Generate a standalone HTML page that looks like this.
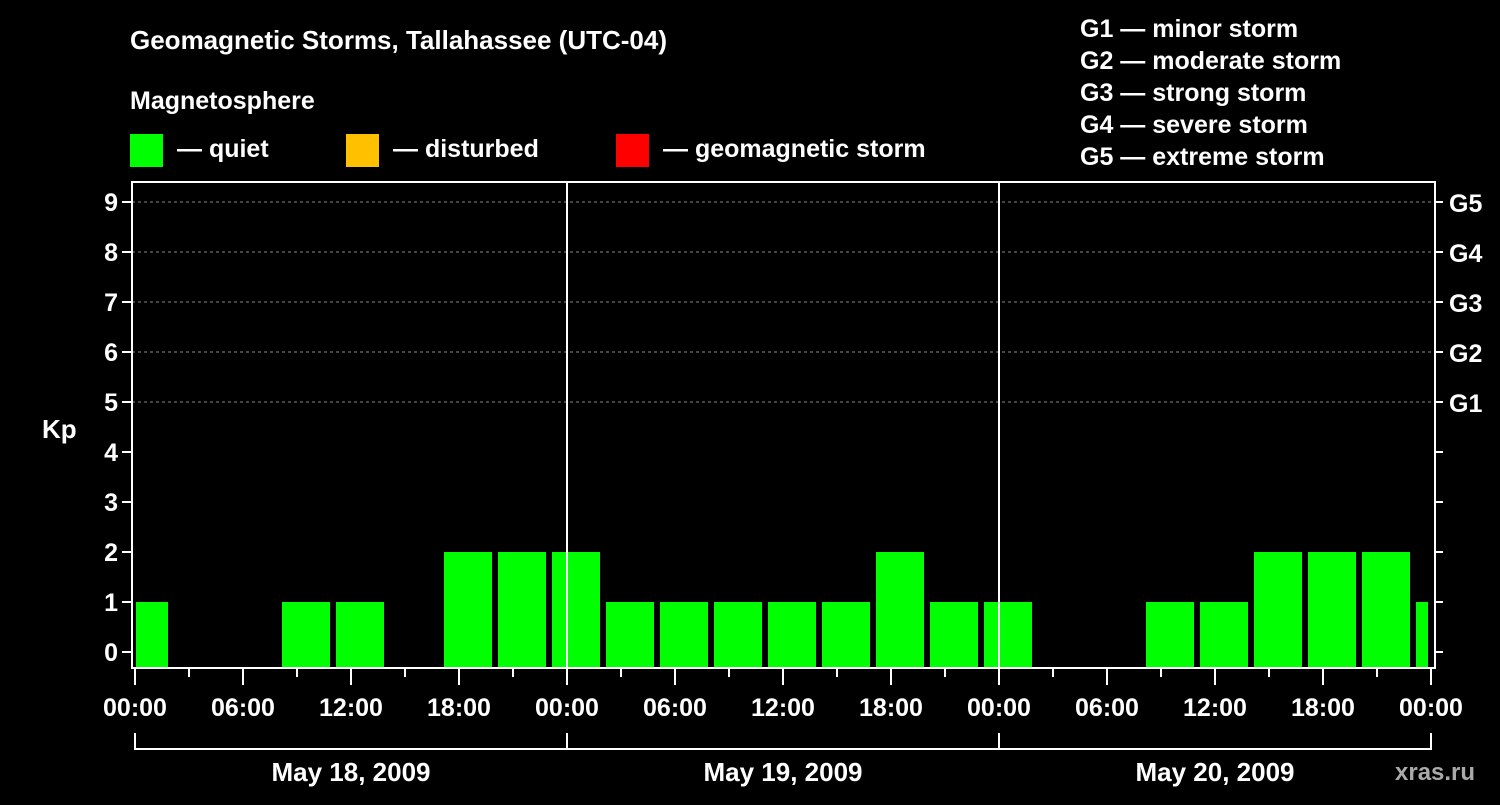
<!DOCTYPE html>
<html><head><meta charset="utf-8"><style>
body{margin:0;background:#000;width:1500px;height:800px;overflow:hidden}
svg text{font-family:"Liberation Sans",sans-serif;font-weight:bold;fill:#fff}
</style></head><body>
<svg id="c" width="1500" height="800">
<text x="130" y="49" font-size="26">Geomagnetic Storms, Tallahassee (UTC-04)</text>
<text x="130" y="109" font-size="25">Magnetosphere</text>
<rect x="130" y="134" width="33" height="33" fill="#00ff00"/>
<text x="177" y="157" font-size="25">— quiet</text>
<rect x="346" y="134" width="33" height="33" fill="#ffc000"/>
<text x="393" y="157" font-size="25">— disturbed</text>
<rect x="616" y="134" width="33" height="33" fill="#ff0000"/>
<text x="663" y="157" font-size="25">— geomagnetic storm</text>
<g font-size="25">
<text x="1080" y="37">G1 — minor storm</text>
<text x="1080" y="69">G2 — moderate storm</text>
<text x="1080" y="101">G3 — strong storm</text>
<text x="1080" y="133">G4 — severe storm</text>
<text x="1080" y="165">G5 — extreme storm</text>
</g>
<text x="42" y="438" font-size="26">Kp</text>
<text x="1395" y="780" font-size="24" fill="#aaa" style="fill:#aaa">xras.ru</text>
<g id="grid"></g><g id="bars"></g><g id="axes"></g>
</svg>
<script>
const kpValues=[1,0,0,1,1,0,2,2,2,1,1,1,1,1,2,1,1,0,0,1,1,2,2,2,1];
const firstBarHour=-1;
const yTicks=[0,1,2,3,4,5,6,7,8,9];
const gLabels=["G1","G2","G3","G4","G5"];
const xTickLabels=["00:00","06:00","12:00","18:00","00:00","06:00","12:00","18:00","00:00","06:00","12:00","18:00","00:00"];
const dateLabels=["May 18, 2009","May 19, 2009","May 20, 2009"];
const NS="http://www.w3.org/2000/svg";
const X0=135,PX_H=18,Y0=652,PX_K=50,TOP=182,BOT=668,L=132,R=1435,XEND=1431;
const xs=h=>X0+h*PX_H, ys=k=>Y0-k*PX_K;
function mk(p,t,a){const e=document.createElementNS(NS,t);for(const k in a)e.setAttribute(k,a[k]);document.getElementById(p).appendChild(e);return e;}
yTicks.forEach(k=>{
  if(k>=5){const g=mk('grid','line',{x1:L,x2:R,y1:ys(k),y2:ys(k),stroke:'#888','stroke-dasharray':'3,3'});
  
  }
  const t=mk('axes','line',{x1:L-10,x2:L,y1:ys(k),y2:ys(k),stroke:'#fff','stroke-width':2});
  
  
  const t2=mk('axes','line',{x1:R,x2:R+8,y1:ys(k),y2:ys(k),stroke:'#fff','stroke-width':2});
  
  
  const lb=mk('axes','text',{x:L-14,y:ys(k)+9,'font-size':25,'text-anchor':'end'});lb.textContent=k;
  
  
  if(k>=5){const g=mk('axes','text',{x:R+14,y:ys(k)+10,'font-size':25});g.textContent=gLabels[k-5];
  
  }
});
kpValues.forEach((v,i)=>{
  if(v<=0)return;
  const h=firstBarHour+3*i;
  const x1=Math.max(xs(h)+3,X0+1), x2=Math.min(xs(h+3)-3,XEND-3);
  const c=v>=5?'#ff0000':(v>=4?'#ffc000':'#00ff00');
  const b=mk('bars','rect',{x:x1,y:ys(v),width:x2-x1,height:BOT-ys(v),fill:c});
  
  
});
const fr=mk('axes','rect',{x:L,y:TOP,width:R-L,height:BOT-TOP,fill:'none',stroke:'#fff','stroke-width':2});


[1,2].forEach(d=>{const l=mk('axes','line',{x1:xs(24*d),x2:xs(24*d),y1:TOP,y2:BOT,stroke:'#fff','stroke-width':2});

});
for(let h=0;h<=72;h+=3){const maj=h%6==0;const t=mk('axes','line',{x1:xs(h),x2:xs(h),y1:BOT,y2:BOT+(maj?17:9),stroke:'#fff','stroke-width':2});

}
xTickLabels.forEach((s,i)=>{const t=mk('axes','text',{x:xs(i*6),y:716,'font-size':25,'text-anchor':'middle'});t.textContent=s;

});
const br=mk('axes','path',{d:`M${xs(0)},733V749H${xs(72)}V733M${xs(24)},733V749M${xs(48)},733V749`,fill:'none',stroke:'#fff','stroke-width':2});


dateLabels.forEach((s,i)=>{const t=mk('axes','text',{x:xs(24*i+12),y:781,'font-size':26,'text-anchor':'middle'});t.textContent=s;

});
</script>
</body></html>
